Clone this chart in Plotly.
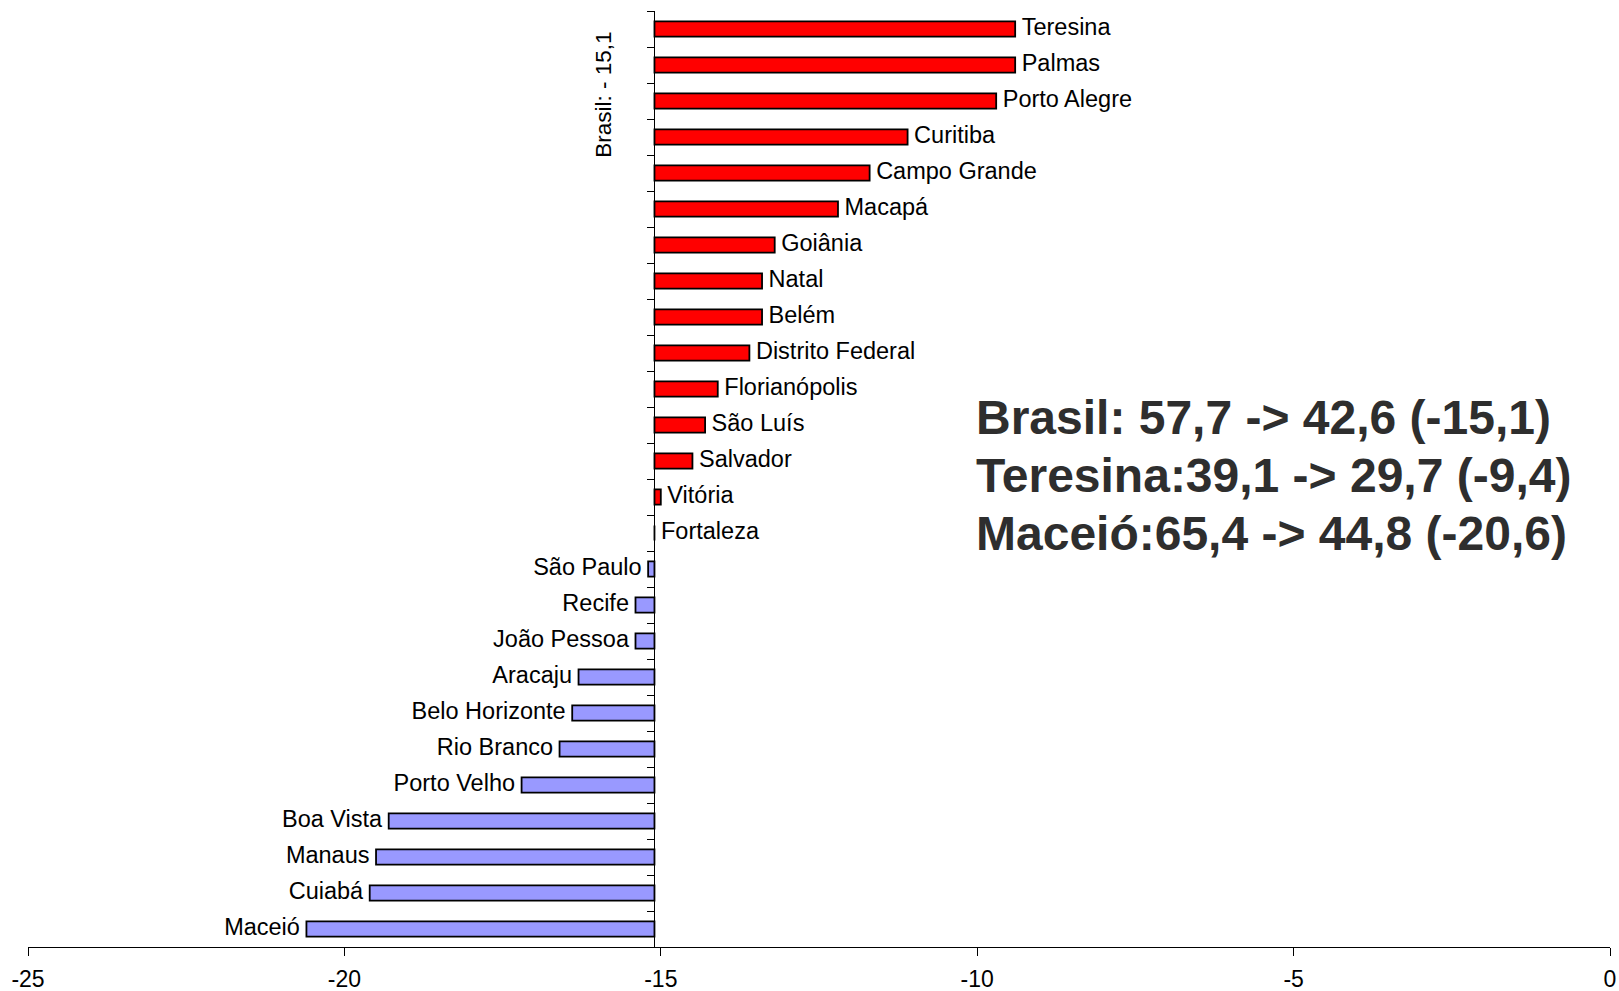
import plotly.graph_objects as go

# variação por capital (pontos), base = Brasil
brasil = -15.1
cidades = ["Teresina", "Palmas", "Porto Alegre", "Curitiba", "Campo Grande", "Macapá",
           "Goiânia", "Natal", "Belém", "Distrito Federal", "Florianópolis", "São Luís",
           "Salvador", "Vitória", "Fortaleza", "São Paulo", "Recife", "João Pessoa",
           "Aracaju", "Belo Horizonte", "Rio Branco", "Porto Velho", "Boa Vista",
           "Manaus", "Cuiabá", "Maceió"]
valores = [-9.4, -9.4, -9.7, -11.1, -11.7, -12.2, -13.2, -13.4, -13.4, -13.6, -14.1, -14.3,
           -14.5, -15.0, -15.1, -15.2, -15.4, -15.4, -16.3, -16.4, -16.6, -17.2, -19.3,
           -19.5, -19.6, -20.6]
x_ticks = [-25, -20, -15, -10, -5, 0]
x_ticktext = ["-25", "-20", "-15", "-10", "-5", "0"]
resumo = ["Brasil: 57,7 -> 42,6 (-15,1)",
          "Teresina:39,1 -> 29,7 (-9,4)",
          "Maceió:65,4 -> 44,8 (-20,6)"]

FONT = "Liberation Sans, Arial, sans-serif"

cores = ["#FF0000" if v >= brasil else "#9999FF" for v in valores]
acima = [v >= brasil for v in valores]

fig = go.Figure()
fig.add_trace(go.Bar(
    y=cidades, x=[v - brasil for v in valores], base=brasil, orientation="h",
    marker=dict(color=cores, line=dict(color="black", width=1.8)),
    width=0.42, hoverinfo="skip",
))
fig.add_trace(go.Scatter(
    y=[c for c, a in zip(cidades, acima) if a],
    x=[v for v, a in zip(valores, acima) if a],
    mode="text", text=["\u00a0" + c for c, a in zip(cidades, acima) if a],
    textposition="middle right", textfont=dict(size=23.5, color="black", family=FONT),
    hoverinfo="skip", cliponaxis=False,
))
fig.add_trace(go.Scatter(
    y=[c for c, a in zip(cidades, acima) if not a],
    x=[v for v, a in zip(valores, acima) if not a],
    mode="text", text=[c + "\u00a0" for c, a in zip(cidades, acima) if not a],
    textposition="middle left", textfont=dict(size=23.5, color="black", family=FONT),
    hoverinfo="skip", cliponaxis=False,
))

fig.add_annotation(
    text="Brasil: - 15,1", textangle=-90, xref="x", x=brasil, xshift=-51,
    yref="paper", y=0.911, yanchor="middle", showarrow=False,
    font=dict(size=22.5, color="black", family=FONT),
)
for i, linha in enumerate(resumo):
    fig.add_annotation(
        text="<b>" + linha + "</b>", xref="paper", yref="paper",
        x=0.598, xanchor="left", y=0.5656 - i * 0.0618, yanchor="middle",
        showarrow=False, font=dict(size=48, color="#2e2e2e", family=FONT),
    )

fig.update_layout(
    width=1619, height=991, showlegend=False,
    plot_bgcolor="white", paper_bgcolor="white",
    margin=dict(l=28, r=9, t=11, b=44),
    font=dict(family=FONT, color="black"),
    xaxis=dict(range=[-25, 0], tickvals=x_ticks, ticktext=x_ticktext,
               showline=True, linecolor="black", linewidth=1.2,
               ticks="outside", ticklen=8, tickcolor="black",
               showgrid=False, zeroline=False, ticklabelstandoff=3,
               tickfont=dict(size=23), automargin=False),
    yaxis=dict(categoryorder="array", categoryarray=cidades,
               range=[len(cidades) - 0.5, -0.5],
               anchor="free", position=(brasil + 25) / 25,
               showline=True, linecolor="black", linewidth=1.2,
               ticks="outside", ticklen=7, tickcolor="black", tickson="boundaries",
               showticklabels=False, showgrid=False, zeroline=False, automargin=False),
)

# drop the default body margin so the figure fills the window exactly
fig.write_html("out.html", config={"displayModeBar": False},
               post_script="document.body.style.margin='0';document.body.style.overflow='hidden';")
